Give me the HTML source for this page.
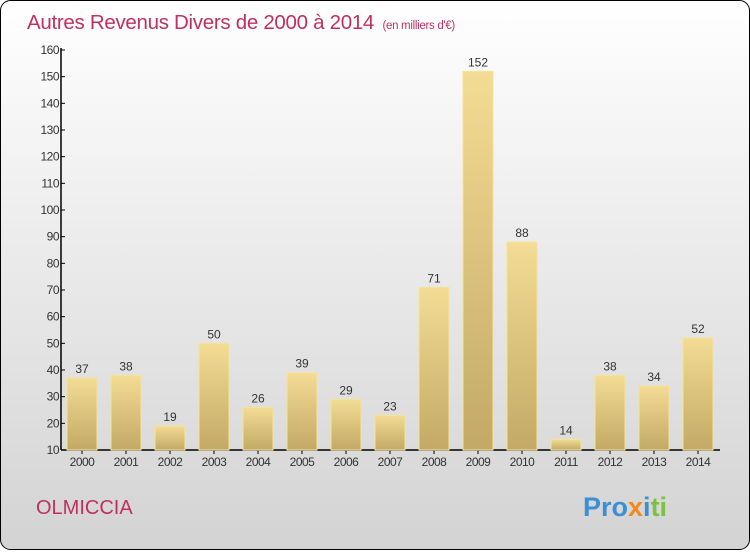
<!DOCTYPE html>
<html><head><meta charset="utf-8"><style>
body{margin:0;width:750px;height:550px;overflow:hidden;font-family:"Liberation Sans",sans-serif}
</style></head><body>
<svg width="750" height="550" xmlns="http://www.w3.org/2000/svg">
<defs>
<linearGradient id="bg" x1="0" y1="0" x2="0" y2="1"><stop offset="0" stop-color="#ffffff"/><stop offset="1" stop-color="#d3d3d3"/></linearGradient>
<linearGradient id="bar" x1="0" y1="0" x2="0" y2="1"><stop offset="0" stop-color="#f3dc94"/><stop offset="1" stop-color="#c3a965"/></linearGradient>
</defs>
<rect x="0.5" y="0.5" width="749" height="549" rx="10" fill="url(#bg)" stroke="#000"/>
<text x="27" y="29" font-size="20.5" fill="#c0305f" letter-spacing="-0.3">Autres Revenus Divers de 2000 à 2014 <tspan font-size="11.5" dx="3">(en milliers d'€)</tspan></text>
<g id="yax"></g>
<g id="xax"></g>
<g id="bars"></g>
<text x="36" y="514" font-size="20" fill="#c0305f">OLMICCIA</text>
<text x="583" y="516" font-size="27" font-weight="bold"><tspan fill="#3a8fd6">Pro</tspan><tspan fill="#f08a1c">x</tspan><tspan fill="#3a8fd6">i</tspan><tspan fill="#7cc242">ti</tspan></text>
</svg>
<script>
const categories=["2000","2001","2002","2003","2004","2005","2006","2007","2008","2009","2010","2011","2012","2013","2014"];
const values=[37,38,19,50,26,39,29,23,71,152,88,14,38,34,52];
const yTicks=[10,20,30,40,50,60,70,80,90,100,110,120,130,140,150,160];
const NS="http://www.w3.org/2000/svg";
const y0=450,y1=50,vmin=10,vmax=160;
const y=v=>y0-(v-vmin)/(vmax-vmin)*(y0-y1);
const x=i=>82+i*44;
function mk(t,a,p){const e=document.createElementNS(NS,t);for(const k in a)e.setAttribute(k,a[k]);p.appendChild(e);return e;}
const ya=document.getElementById('yax'),xa=document.getElementById('xax'),bg=document.getElementById('bars');
mk('line',{x1:61,y1:y1-2,x2:61,y2:y0,stroke:'#000','stroke-width':1.5},ya);
mk('line',{x1:61,y1:y0,x2:720,y2:y0,stroke:'#000','stroke-width':1.5},xa);
yTicks.forEach(v=>{
 mk('line',{x1:61,y1:y(v),x2:65,y2:y(v),stroke:'#000'},ya);
 const t=mk('text',{x:59,y:y(v)+4,'text-anchor':'end','font-size':12,fill:'#333','letter-spacing':'-0.5'},ya);t.textContent=v;
 
 
});
categories.forEach((c,i)=>{
 mk('line',{x1:x(i),y1:y0,x2:x(i),y2:y0+4,stroke:'#000'},xa);
 const t=mk('text',{x:x(i),y:y0+16,'text-anchor':'middle','font-size':12,fill:'#333','letter-spacing':'-0.5'},xa);t.textContent=c;
 
 
 const v=values[i];
 const r=mk('rect',{x:x(i)-15,y:y(v),width:30,height:y0-y(v),fill:'url(#bar)',stroke:'#f5e39a','stroke-width':1},bg);
 
 
 const l=mk('text',{x:x(i),y:y(v)-5,'text-anchor':'middle','font-size':12,fill:'#333'},bg);l.textContent=v;
 
 
});
</script>
</body></html>
